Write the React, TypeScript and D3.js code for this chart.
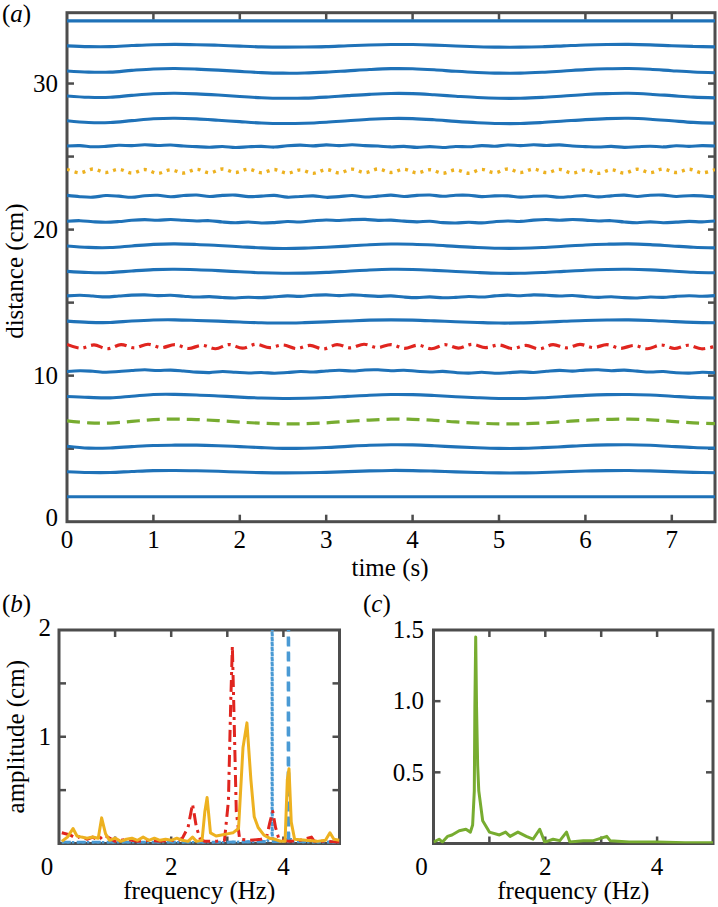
import React from 'react';
import * as d3 from 'd3';

// ---------- panel (a) data ----------
const timeTicks = [1, 2, 3, 4, 5, 6, 7];
const timeLabels = [0, 1, 2, 3, 4, 5, 6, 7];
const distTicks = [5, 10, 15, 20, 25, 30];
const distLabels = [0, 10, 20, 30];
const lineBase = [1.71, 3.42, 5.14, 6.85, 8.57, 10.28, 12.0, 13.71, 15.43, 17.14, 18.86, 20.57, 22.29, 24.0, 25.72, 27.43, 29.15, 30.86, 32.58, 34.29];

const wave00 = [0, 0];
const wave01 = [0.0, -0.05, -0.05, 0.02, 0.08, 0.09, 0.07, 0.03, -0.02, -0.06, -0.08, -0.07, -0.04, 0.01, 0.06, 0.09, 0.08, 0.04, -0.01, -0.05, -0.08, -0.08, -0.05, 0.0, 0.05, 0.08, 0.09, 0.06, 0.01, -0.04, -0.07];
const wave02 = [0.03, -0.1, -0.09, 0.0, 0.08, 0.1, 0.1, 0.06, 0.0, -0.07, -0.12, -0.11, -0.06, 0.02, 0.09, 0.13, 0.12, 0.06, -0.02, -0.08, -0.12, -0.12, -0.07, 0.0, 0.08, 0.12, 0.13, 0.09, 0.01, -0.06, -0.1];
const wave03 = [0.05, -0.08, -0.1, 0.02, 0.14, 0.17, 0.14, 0.07, -0.03, -0.11, -0.15, -0.14, -0.08, 0.02, 0.11, 0.17, 0.16, 0.09, -0.02, -0.1, -0.15, -0.15, -0.09, 0.0, 0.09, 0.15, 0.17, 0.12, 0.02, -0.08, -0.13];
const wave04 = [0.0, -0.06, -0.09, 0.02, 0.14, 0.15, 0.11, 0.04, -0.04, -0.1, -0.13, -0.12, -0.07, 0.01, 0.09, 0.14, 0.13, 0.07, -0.01, -0.08, -0.13, -0.13, -0.08, 0.0, 0.08, 0.13, 0.14, 0.1, 0.02, -0.06, -0.1];
const wave05 = [0.0, 0.06, 0.02, -0.05, 0.0, 0.07, 0.12, 0.07, 0.1, 0.04, -0.04, -0.07, 0.0, -0.05, -0.1, -0.06, -0.12, -0.07, 0.0, -0.03, 0.04, 0.09, 0.04, 0.11, 0.12, 0.06, 0.09, 0.02, -0.03, 0.01, -0.07, -0.11, -0.05, -0.12, -0.08, -0.02, -0.06, 0.02, 0.08, 0.03, 0.1, 0.12, 0.06, 0.1, 0.03, -0.03, 0.0, -0.08, -0.11, -0.05, -0.08];
const wave06 = [0.14, -0.12, 0.1, -0.16, 0.12, -0.1, 0.15, -0.08, 0.12, -0.14, 0.08, -0.16, 0.13, -0.12, 0.15, -0.08, 0.1, -0.15, 0.07, -0.17, 0.12, -0.1, 0.15, -0.08, 0.13, -0.13, 0.09, -0.16, 0.12, -0.12, 0.15, -0.08, 0.1, -0.15, 0.07, -0.17, 0.12, -0.1, 0.14, -0.08, 0.12, -0.13, 0.07, -0.16, 0.1, -0.14, 0.08, -0.16, 0.0];
const wave07 = [0.02, -0.06, -0.07, 0.03, 0.1, 0.11, 0.07, 0.02, -0.04, -0.09, -0.11, -0.08, -0.03, 0.03, 0.09, 0.11, 0.09, 0.04, -0.02, -0.07, -0.11, -0.1, -0.05, 0.01, 0.07, 0.1, 0.11, 0.07, 0.0, -0.06, -0.09];
const wave08 = [0.03, 0.07, 0.02, -0.04, 0.02, 0.08, 0.1, 0.05, 0.07, 0.01, -0.05, -0.02, -0.08, -0.11, -0.06, -0.09, -0.03, 0.03, 0.0, 0.07, 0.1, 0.05, 0.1, 0.05, 0.0, 0.03, -0.05, -0.09, -0.04, -0.1, -0.07, -0.01, -0.05, 0.03, 0.08, 0.04, 0.1, 0.07, 0.02, 0.06, -0.02, -0.07, -0.03, -0.09, -0.11, -0.05, -0.07, 0.0, 0.04, 0.01, 0.05];
const wave09 = [0.0, -0.08, -0.08, 0.03, 0.12, 0.14, 0.11, 0.05, -0.03, -0.1, -0.13, -0.12, -0.07, 0.01, 0.09, 0.14, 0.13, 0.07, -0.01, -0.08, -0.13, -0.13, -0.08, 0.0, 0.08, 0.13, 0.14, 0.1, 0.02, -0.06, -0.1];
const wave10 = [0.02, -0.08, -0.09, 0.02, 0.13, 0.16, 0.12, 0.05, -0.03, -0.11, -0.15, -0.13, -0.07, 0.01, 0.1, 0.15, 0.14, 0.08, -0.01, -0.09, -0.14, -0.14, -0.09, 0.0, 0.09, 0.14, 0.16, 0.11, 0.02, -0.07, -0.11];
const wave11 = [0.0, 0.04, -0.03, -0.07, -0.02, 0.07, 0.11, 0.07, 0.12, 0.07, 0.02, 0.04, -0.05, -0.1, -0.05, -0.12, -0.09, -0.02, -0.05, 0.03, 0.09, 0.05, 0.11, 0.13, 0.06, 0.08, 0.01, -0.04, 0.0, -0.09, -0.12, -0.07, -0.11, -0.03, 0.02, -0.01, 0.08, 0.12, 0.07, 0.12, 0.08, 0.02, 0.04, -0.05, -0.1, -0.04, -0.1, -0.06, -0.01, -0.04, 0.02];
const wave12 = [0.05, -0.04, -0.07, 0.04, 0.0, -0.08, 0.03, 0.06, -0.04, 0.04, 0.08, -0.02, 0.05, 0.07, -0.03, 0.0, 0.05, -0.07, -0.02, 0.02, -0.08, -0.03, 0.04, -0.06, 0.0, 0.07, -0.02, 0.05, 0.08, -0.01, 0.06, 0.06, -0.03, 0.02, 0.02, -0.07, -0.01, 0.01, -0.08, -0.02, 0.04, -0.05, 0.02, 0.07, -0.02, 0.06, 0.07, -0.02, 0.03, 0.02, -0.05];
const wave13 = [0.13, -0.11, 0.15, -0.09, 0.13, -0.13, 0.11, -0.15, 0.09, -0.13, 0.13, -0.11, 0.15, -0.09, 0.14, -0.11, 0.11, -0.14, 0.09, -0.15, 0.11, -0.12, 0.14, -0.1, 0.15, -0.09, 0.13, -0.12, 0.1, -0.14, 0.09, -0.14, 0.12, -0.11, 0.15, -0.09, 0.14, -0.1, 0.12, -0.13, 0.09, -0.15, 0.1, -0.13, 0.13, -0.1, 0.15, -0.09, 0.13, -0.11, 0.11];
const wave14 = [0.0, 0.03, -0.05, -0.02, 0.05, 0.03, 0.09, 0.04, 0.07, 0.0, -0.04, -0.08, -0.03, -0.1, -0.05, -0.02, -0.07, 0.02, 0.06, 0.01, 0.08, 0.03, 0.09, 0.03, 0.0, -0.06, -0.02, -0.09, -0.04, -0.1, -0.03, -0.05, 0.03, -0.01, 0.07, 0.03, 0.09, 0.04, 0.08, 0.0, -0.04, -0.07, -0.02, -0.09, -0.05, -0.01, -0.06, 0.02, -0.02, 0.03, 0.0];
const wave15 = [0.02, -0.1, -0.1, 0.03, 0.16, 0.19, 0.15, 0.06, -0.04, -0.13, -0.17, -0.15, -0.08, 0.02, 0.12, 0.18, 0.17, 0.09, -0.02, -0.11, -0.17, -0.17, -0.1, 0.0, 0.1, 0.17, 0.19, 0.13, 0.02, -0.09, -0.14];
const wave16 = [0.0, -0.09, -0.09, 0.04, 0.15, 0.18, 0.14, 0.06, -0.04, -0.12, -0.16, -0.15, -0.08, 0.02, 0.11, 0.17, 0.16, 0.08, -0.02, -0.11, -0.16, -0.16, -0.1, 0.0, 0.1, 0.16, 0.18, 0.12, 0.02, -0.08, -0.13];
const wave17 = [0.0, -0.08, -0.08, 0.04, 0.14, 0.17, 0.13, 0.06, -0.03, -0.11, -0.15, -0.14, -0.08, 0.01, 0.1, 0.16, 0.15, 0.08, -0.02, -0.1, -0.15, -0.15, -0.09, 0.0, 0.09, 0.15, 0.17, 0.12, 0.02, -0.07, -0.12];
const wave18 = [0.0, -0.05, -0.05, 0.02, 0.08, 0.1, 0.08, 0.04, -0.02, -0.07, -0.09, -0.08, -0.05, 0.01, 0.06, 0.09, 0.09, 0.05, -0.01, -0.06, -0.09, -0.09, -0.06, 0.0, 0.06, 0.09, 0.1, 0.07, 0.01, -0.04, -0.07];
const wave19 = [0, 0];

const waves = [wave00, wave01, wave02, wave03, wave04, wave05, wave06, wave07, wave08, wave09, wave10, wave11, wave12, wave13, wave14, wave15, wave16, wave17, wave18, wave19];

// ---------- panel (b) data ----------
const freqTicks = [1, 2, 3, 4];
const freqLabels = [0, 2, 4];
const ampTicksB = [0.5, 1, 1.5];
const ampLabelsB = [1, 2];

const redF = [0.05, 0.2, 0.3, 0.4, 0.5, 0.6, 0.7, 0.8, 0.9, 1.0, 1.2, 1.4, 1.6, 1.8, 2.0, 2.1, 2.2, 2.3, 2.38, 2.45, 2.52, 2.6, 2.8, 2.95, 3.02, 3.06, 3.09, 3.12, 3.16, 3.22, 3.4, 3.6, 3.7, 3.76, 3.81, 3.86, 3.92, 4.1, 4.3, 4.5, 4.55, 4.8, 5.0];
const redA = [0.1, 0.08, 0.05, 0.07, 0.04, 0.06, 0.03, 0.08, 0.05, 0.02, 0.04, 0.02, 0.03, 0.02, 0.03, 0.02, 0.05, 0.15, 0.37, 0.15, 0.04, 0.02, 0.02, 0.03, 0.4, 1.3, 1.85, 1.2, 0.3, 0.04, 0.03, 0.04, 0.06, 0.2, 0.3, 0.15, 0.04, 0.02, 0.03, 0.06, 0.02, 0.02, 0.01];

const yellowF = [0.05, 0.15, 0.25, 0.32, 0.4, 0.5, 0.6, 0.7, 0.76, 0.83, 0.9, 1.0, 1.1, 1.2, 1.3, 1.4, 1.5, 1.6, 1.7, 1.8, 1.9, 2.0, 2.1, 2.2, 2.3, 2.38, 2.45, 2.55, 2.6, 2.64, 2.7, 2.8, 2.9, 3.0, 3.1, 3.2, 3.28, 3.35, 3.42, 3.48, 3.55, 3.65, 3.75, 3.85, 3.95, 4.03, 4.07, 4.1, 4.14, 4.2, 4.4, 4.6, 4.75, 4.83, 4.9, 5.0];
const yellowA = [0.02, 0.06, 0.14, 0.07, 0.06, 0.05, 0.06, 0.05, 0.24, 0.09, 0.03, 0.05, 0.02, 0.04, 0.05, 0.03, 0.06, 0.03, 0.05, 0.03, 0.04, 0.03, 0.05, 0.03, 0.02, 0.06, 0.02, 0.03, 0.3, 0.43, 0.1, 0.07, 0.08, 0.09, 0.1, 0.14, 0.9, 1.13, 0.6, 0.25, 0.15, 0.08, 0.05, 0.04, 0.02, 0.02, 0.6, 0.7, 0.2, 0.04, 0.03, 0.02, 0.03, 0.1, 0.04, 0.03];

const blueDotF = [0.05, 1.0, 2.0, 3.0, 3.7, 3.797, 3.8, 3.803, 3.9, 4.5, 5.0];
const blueDotA = [0.01, 0.01, 0.01, 0.01, 0.02, 0.05, 4.0, 0.05, 0.02, 0.01, 0.01];
const blueDashF = [0.05, 1.0, 2.0, 3.0, 4.0, 4.087, 4.09, 4.093, 4.2, 5.0];
const blueDashA = [0.01, 0.01, 0.01, 0.01, 0.02, 0.05, 4.0, 0.05, 0.02, 0.01];

// ---------- panel (c) data ----------
const ampTicksC = [0.5, 1.0];
const ampLabelsC = ['0.5', '1.0', '1.5'];
const ampLabelValsC = [0.5, 1.0, 1.5];
const greenF = [0.0, 0.1, 0.16, 0.25, 0.33, 0.46, 0.58, 0.66, 0.7, 0.73, 0.74, 0.755, 0.77, 0.79, 0.81, 0.88, 1.0, 1.18, 1.29, 1.37, 1.51, 1.66, 1.78, 1.9, 1.99, 2.14, 2.26, 2.38, 2.44, 2.68, 2.86, 3.1, 3.16, 3.5, 4.0, 4.5, 5.0];
const greenA = [0.01, 0.03, 0.01, 0.05, 0.06, 0.09, 0.1, 0.08, 0.13, 0.37, 0.96, 1.45, 0.96, 0.55, 0.37, 0.16, 0.08, 0.06, 0.08, 0.05, 0.08, 0.05, 0.03, 0.1, 0.01, 0.03, 0.02, 0.08, 0.01, 0.02, 0.02, 0.05, 0.02, 0.01, 0.01, 0.005, 0.005];

// ---------- styles ----------
const FONT = 'Liberation Serif';
const FS = 25;
const AX = '#4d4d4d';
const BLUE = '#1f72b8';
const BLUE_L = '#4a9ad4';
const YELLOW = '#edb120';
const RED = '#e0251f';
const GREEN = '#77ac30';

function Frame({ x0, x1, y0, y1, xt, yt, xs, ys }: any) {
  const L = 7;
  return (
    <g stroke={AX} fill="none">
      <rect x={x0} y={y0} width={x1 - x0} height={y1 - y0} strokeWidth={3} />
      {xt.map((t: number) => (
        <g key={'x' + t} strokeWidth={2.5}>
          <line x1={xs(t)} x2={xs(t)} y1={y1} y2={y1 - L} />
          <line x1={xs(t)} x2={xs(t)} y1={y0} y2={y0 + L} />
        </g>
      ))}
      {yt.map((v: number) => (
        <g key={'y' + v} strokeWidth={2.5}>
          <line x1={x0} x2={x0 + L} y1={ys(v)} y2={ys(v)} />
          <line x1={x1} x2={x1 - L} y1={ys(v)} y2={ys(v)} />
        </g>
      ))}
    </g>
  );
}

function T(props: any) {
  const { children, ...rest } = props;
  return (
    <text className="lbl" fontFamily={FONT} fontSize={FS} fill="#000" style={{ fontFamily: FONT }} {...rest}>{children}</text>
  );
}

export default function App() {
  // panel a
  const aX0 = 67, aX1 = 715, aY0 = 12.7, aY1 = 521.7;
  const xA = d3.scaleLinear().domain([0, 7.5]).range([aX0, aX1]);
  const yA = d3.scaleLinear().domain([0, 34.85]).range([aY1, aY0]);

  // panel b
  const bX0 = 59, bX1 = 339.5, bY0 = 630, bY1 = 843.5;
  const xB = d3.scaleLinear().domain([0, 5]).range([bX0, bX1]);
  const yB = d3.scaleLinear().domain([0, 2]).range([bY1, bY0]);

  // panel c
  const cX0 = 433.5, cX1 = 713, cY0 = 630, cY1 = 843.5;
  const xC = d3.scaleLinear().domain([0, 5]).range([cX0, cX1]);
  const yC = d3.scaleLinear().domain([0, 1.5]).range([cY1, cY0]);

  const waveLine = (base: number, vals: number[]) => {
    const n = vals.length;
    const pts = vals.map((v, i) => [(i * 7.5) / (n - 1), base + v] as [number, number]);
    return d3.line<[number, number]>()
      .x((d) => xA(d[0]))
      .y((d) => yA(d[1]))
      .curve(d3.curveCatmullRom)(pts) as string;
  };

  const specLine = (fs: number[], as: number[], xs: any, ys: any) =>
    d3.line<number>()
      .x((_, i) => xs(fs[i]))
      .y((a) => ys(a))(as) as string;

  const special: Record<number, any> = {
    3: { stroke: GREEN, dash: '13,7', width: 3.2 },
    6: { stroke: RED, dash: '12,5,3,5', width: 3.2 },
    13: { stroke: YELLOW, dash: '3,5', width: 3.4 },
  };

  return (
    <svg width={718} height={907} style={{ position: 'absolute', left: 0, top: 0, background: '#fff', fontFamily: FONT }}>
      <style>{`.lbl { font-family: 'Liberation Serif', serif; }`}</style>
      <defs>
        <clipPath id="clipA"><rect x={aX0} y={aY0} width={aX1 - aX0} height={aY1 - aY0} /></clipPath>
        <clipPath id="clipB"><rect x={bX0} y={bY0} width={bX1 - bX0} height={bY1 - bY0} /></clipPath>
        <clipPath id="clipC"><rect x={cX0} y={cY0} width={cX1 - cX0} height={cY1 - cY0} /></clipPath>
      </defs>
      <rect x={0} y={0} width={718} height={907} fill="#fff" />

      {/* ---------- panel (a) ---------- */}
      <Frame x0={aX0} x1={aX1} y0={aY0} y1={aY1} xt={timeTicks} yt={distTicks} xs={xA} ys={yA} />
      <g clipPath="url(#clipA)" fill="none" strokeLinecap="butt" strokeLinejoin="round">
        {waves.map((w, i) => {
          const s = special[i];
          return (
            <path key={i} d={waveLine(lineBase[i], w)}
              stroke={s ? s.stroke : BLUE}
              strokeWidth={s ? s.width : 3.1}
              strokeDasharray={s ? s.dash : undefined} />
          );
        })}
      </g>
      {timeLabels.map((t) => (
        <T key={'tl' + t} x={xA(t)} y={548} textAnchor="middle">{t}</T>
      ))}
      {distLabels.map((v) => (
        <T key={'dl' + v} x={58} y={yA(v) + 8.3 - (v === 0 ? 4 : 0)} textAnchor="end">{v}</T>
      ))}
      <T x={390} y={576} textAnchor="middle">time (s)</T>
      <T transform={`translate(23,${(aY0 + aY1) / 2 + 4}) rotate(-90)`} textAnchor="middle">distance (cm)</T>
      <T x={2} y={22}>(<tspan fontStyle="italic">a</tspan>)</T>

      {/* ---------- panel (b) ---------- */}
      <Frame x0={bX0} x1={bX1} y0={bY0} y1={bY1} xt={freqTicks} yt={ampTicksB} xs={xB} ys={yB} />
      <g clipPath="url(#clipB)" fill="none" strokeLinejoin="round">
        <path d={specLine(blueDotF, blueDotA, xB, yB)} stroke={BLUE_L} strokeWidth={3} strokeDasharray="2.5,2.5" />
        <path d={specLine(blueDashF, blueDashA, xB, yB)} stroke={BLUE_L} strokeWidth={3.4} strokeDasharray="9,6" />
        <path d={specLine(redF, redA, xB, yB)} stroke={RED} strokeWidth={3} strokeDasharray="12,5,3,5" />
        <path d={specLine(yellowF, yellowA, xB, yB)} stroke={YELLOW} strokeWidth={3} />
      </g>
      {freqLabels.map((f) => (
        <T key={'fb' + f} x={xB(f) - (f === 0 ? 12 : 0)} y={875} textAnchor="middle">{f}</T>
      ))}
      {ampLabelsB.map((v) => (
        <T key={'ab' + v} x={51} y={yB(v) + 8.3 - (v === 2 ? 2 : 0)} textAnchor="end">{v}</T>
      ))}
      <T x={(bX0 + bX1) / 2} y={899} textAnchor="middle">frequency (Hz)</T>
      <T transform={`translate(24,${(bY0 + bY1) / 2}) rotate(-90)`} textAnchor="middle">amplitude (cm)</T>
      <T x={2} y={612}>(<tspan fontStyle="italic">b</tspan>)</T>

      {/* ---------- panel (c) ---------- */}
      <Frame x0={cX0} x1={cX1} y0={cY0} y1={cY1} xt={freqTicks} yt={ampTicksC} xs={xC} ys={yC} />
      <g clipPath="url(#clipC)" fill="none" strokeLinejoin="round">
        <path d={specLine(greenF, greenA, xC, yC)} stroke={GREEN} strokeWidth={3} />
      </g>
      {freqLabels.map((f) => (
        <T key={'fc' + f} x={xC(f) - (f === 0 ? 12 : 0)} y={875} textAnchor="middle">{f}</T>
      ))}
      {ampLabelValsC.map((v, i) => (
        <T key={'ac' + v} x={424} y={yC(v) + 8.3} textAnchor="end">{ampLabelsC[i]}</T>
      ))}
      <T x={(cX0 + cX1) / 2} y={899} textAnchor="middle">frequency (Hz)</T>
      <T x={363} y={612}>(<tspan fontStyle="italic">c</tspan>)</T>
    </svg>
  );
}
